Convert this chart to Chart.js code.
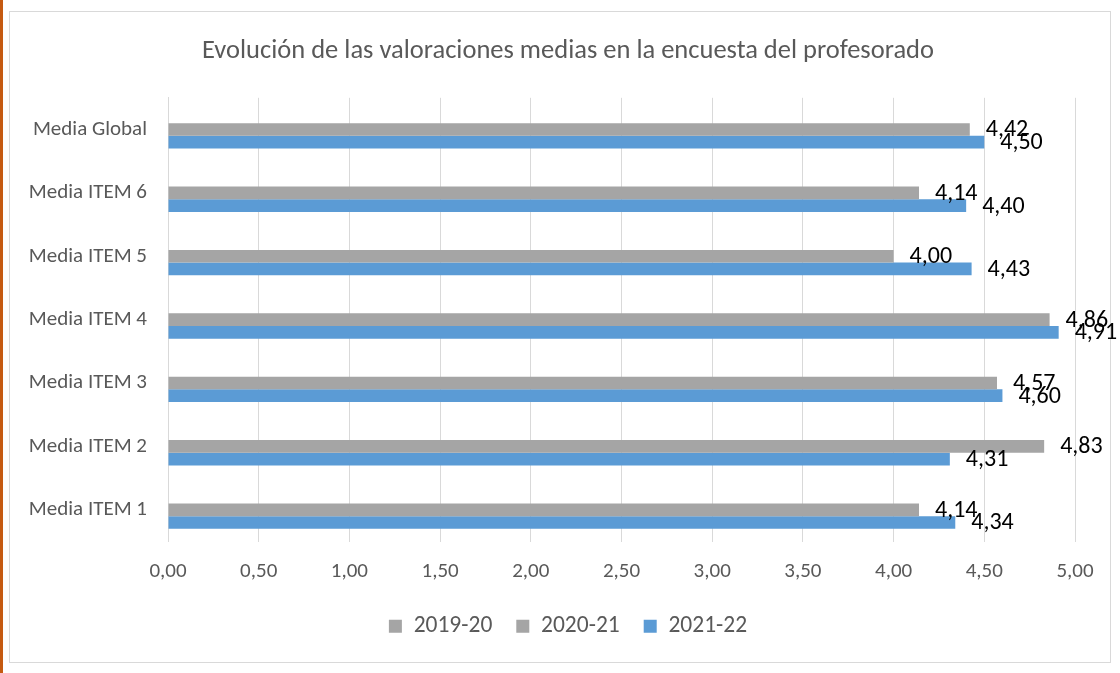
<!DOCTYPE html>
<html>
<head>
<meta charset="utf-8">
<script src="https://cdn.jsdelivr.net/npm/chart.js@4.4.0/dist/chart.umd.min.js"></script>
<style>
    body { margin: 0; background: #fff; }
    .orange { position: absolute; left: 0; top: 0; width: 3px; height: 673px; background: #c55a11; }
    .frame { position: absolute; left: 9px; top: 11px; width: 1100px; height: 650px; border: 1px solid #d9d9d9; }
    .wrap { position: absolute; left: 0; top: 0; width: 1120px; height: 673px; }
</style>
</head>
<body>
<div class="orange"></div>
<div class="frame"></div>
<div class="wrap"><canvas id="grafico"></canvas></div>
<script>
// Datos
const categorias = ['Media Global', 'Media ITEM 6', 'Media ITEM 5', 'Media ITEM 4', 'Media ITEM 3', 'Media ITEM 2', 'Media ITEM 1'];
const serie1920 = [null, null, null, null, null, null, null];
const serie2021 = [4.42, 4.14, 4.00, 4.86, 4.57, 4.83, 4.14];
const serie2122 = [4.50, 4.40, 4.43, 4.91, 4.60, 4.31, 4.34];
const ticksX = [0, 0.5, 1, 1.5, 2, 2.5, 3, 3.5, 4, 4.5, 5];

const fuente = "Carlito, Lato, 'Open Sans', sans-serif";
const gris = '#595959';

// Etiquetas de valor a la derecha de cada barra
const etiquetas = {
    id: 'etiquetas',
    afterDatasetsDraw(chart) {
        const ctx = chart.ctx;
        ctx.save();
        ctx.font = '24px ' + fuente;
        ctx.fillStyle = '#000';
        ctx.textAlign = 'left';
        ctx.textBaseline = 'middle';
        chart.data.datasets.forEach((ds, i) => {
            if (i === 0) return;
            chart.getDatasetMeta(i).data.forEach((bar, j) => {
                const v = ds.data[j];
                if (v == null) return;
                ctx.fillText(v.toFixed(2).replace('.', ','), bar.x + 16, bar.y + 1);
            });
        });
        ctx.restore();
    }
};

const ctx = document.getElementById('grafico').getContext('2d');
new Chart(ctx, {
    type: 'bar',
    data: {
        labels: categorias,
        datasets: [
            { label: '2019-20', data: serie1920, backgroundColor: '#a5a5a5' },
            { label: '2020-21', data: serie2021, backgroundColor: '#a5a5a5' },
            { label: '2021-22', data: serie2122, backgroundColor: '#5b9bd5' }
        ]
    },
    options: {
        indexAxis: 'y',
        responsive: true,
        maintainAspectRatio: false,
        animation: false,
        categoryPercentage: 0.6,
        barPercentage: 1,
        layout: { padding: { left: 16, right: 0, top: 0, bottom: 25 } },
        plugins: {
            title: {
                display: true,
                text: 'Evolución de las valoraciones medias en la encuesta del profesorado',
                color: gris,
                font: { family: fuente, size: 26.5, weight: 'normal', lineHeight: 1.2 },
                padding: { top: 35, bottom: 31 }
            },
            legend: {
                position: 'bottom',
                labels: {
                    color: gris,
                    font: { family: fuente, size: 23.5 },
                    boxWidth: 13,
                    boxHeight: 13,
                    padding: 24
                }
            },
            tooltip: { enabled: false }
        },
        scales: {
            x: {
                min: 0,
                max: 5,
                afterBuildTicks: s => { s.ticks = ticksX.map(v => ({ value: v })); },
                afterFit: s => { s.height = 49; },
                ticks: {
                    color: gris,
                    font: { family: fuente, size: 21 },
                    padding: 18,
                    callback: v => Number(v).toFixed(2).replace('.', ',')
                },
                grid: { color: '#d9d9d9', drawTicks: false },
                border: { display: false }
            },
            y: {
                afterFit: s => { s.width = 152; },
                ticks: {
                    color: gris,
                    font: { family: fuente, size: 21 },
                    padding: 21
                },
                grid: { display: false, drawTicks: false },
                border: { color: '#d9d9d9' }
            },
            // eje vacío a la derecha solo para reservar el margen
            margen: {
                type: 'category',
                position: 'right',
                labels: [''],
                afterFit: s => { s.width = 45; },
                ticks: { display: false },
                grid: { display: false, drawTicks: false },
                border: { display: false }
            }
        }
    },
    plugins: [etiquetas]
});
</script>
</body>
</html>
